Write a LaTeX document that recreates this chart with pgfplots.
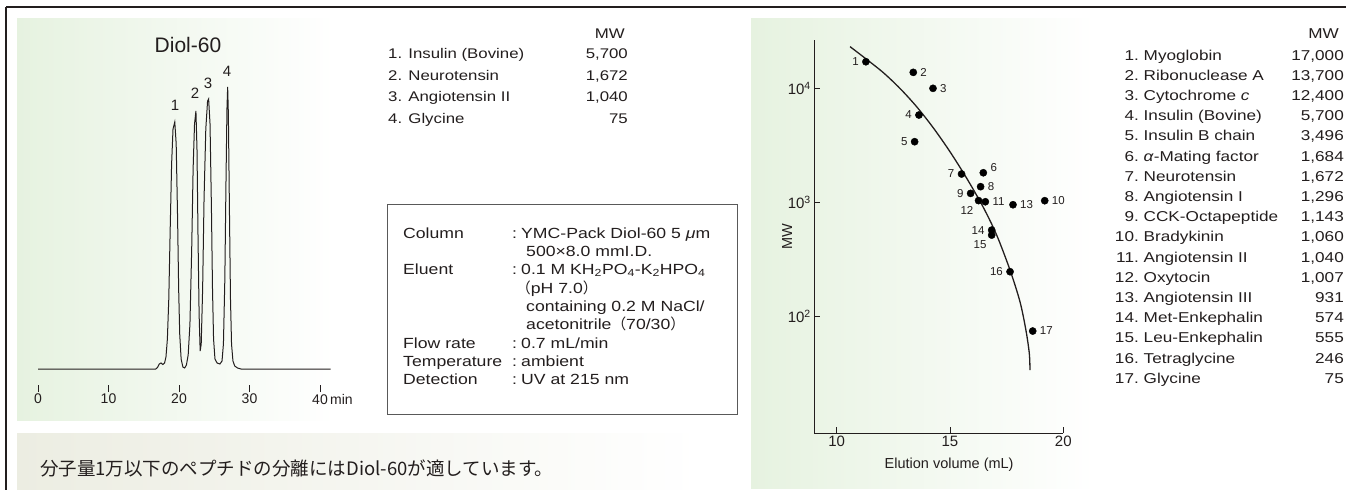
\documentclass[border=0pt]{standalone}
\usepackage{pgfplots}
\pgfplotsset{compat=1.18}
\usepackage{fontspec}
\setmainfont[FakeStretch=1.2]{Liberation Sans}
\newfontfamily\plain{Liberation Sans}
\newfontfamily\jp{Noto Sans CJK JP}
\definecolor{bggreen}{RGB}{230,242,224}
\definecolor{bgbeige}{RGB}{236,237,226}
\definecolor{ink}{RGB}{35,30,30}
\newcommand\fs[1]{\fontsize{#1bp}{#1bp}\selectfont}

\begin{document}
\begin{tikzpicture}[every node/.style={inner sep=0pt, text=ink}]
\path[use as bounding box] (0,0) rectangle (1346bp,-490bp);
\clip (0,0) rectangle (1346bp,-490bp);
\fill[white] (0,0) rectangle (1346bp,-490bp);
% panel backgrounds
\shade[left color=bggreen,right color=white] (17bp,-18bp) rectangle (335bp,-420bp);
\shade[left color=bgbeige,right color=white] (17bp,-433bp) rectangle (700bp,-490bp);
\shade[left color=bggreen,right color=white] (751bp,-18bp) rectangle (1095bp,-488bp);
\draw[ink,line width=1.3bp] (6bp,-7bp) -- (1346bp,-7bp) (6bp,-7bp) -- (6bp,-490bp);

% chromatogram
\begin{axis}[at={(38bp,-392bp)}, anchor=south west, scale only axis,
  width=292.6bp, height=323bp, xmin=0, xmax=41.5, ymin=-23, ymax=300,
  axis y line=none, axis x line=bottom, x axis line style={draw=none},
  tick align=inside, major tick length=7bp,
  xtick={0,10,20,30,40}, xticklabels={0,10,20,30,{40\rlap{\,min}}},
  xtick style={ink, line width=0.8bp},
  xticklabel style={font=\plain\fs{14}, text=ink, yshift=-2bp},
  clip=false]
\addplot[ink, line width=1bp] coordinates {
(0,0) (16.7,0) (16.95,1.5) (17.2,5) (17.45,6) (17.7,4.5) (17.95,6)
(18.15,12) (18.35,30) (18.55,70) (18.75,140) (18.95,205) (19.15,240)
(19.4,247) (19.6,225) (19.8,150) (19.95,80) (20.1,35) (20.3,10)
(20.55,2) (20.8,1) (21.05,4) (21.3,14) (21.55,45) (21.8,120) (22.0,200)
(22.2,245) (22.4,258) (22.55,220) (22.7,130) (22.85,55) (23.0,18)
(23.15,25) (23.35,80) (23.55,170) (23.8,240) (24.05,268) (24.2,270)
(24.4,245) (24.6,160) (24.75,80) (24.9,30) (25.1,10) (25.4,6) (25.8,5)
(26.1,8) (26.3,25) (26.5,90) (26.65,180) (26.8,260) (26.9,282) (27.0,255)
(27.15,160) (27.3,70) (27.45,25) (27.65,8) (27.9,3) (28.3,1) (28.8,0)
(41.5,0)};
\end{axis}
\node[font=\plain\fs{21}] at (188bp,-45bp) {Diol-60};
\node[font=\plain\fs{15}] at (175bp,-105bp) {1};
\node[font=\plain\fs{15}] at (195bp,-93bp) {2};
\node[font=\plain\fs{15}] at (208bp,-83bp) {3};
\node[font=\plain\fs{15}] at (227bp,-71bp) {4};

% left compound list
\begin{scope}[every node/.append style={font=\fs{14}}]
\node[anchor=base east] at (625bp,-38bp) {MW};
\foreach \y/\name/\v in {58/1. Insulin (Bovine)/{5,700}, 80/2. Neurotensin/{1,672},
   101/3. Angiotensin II/{1,040}, 123/4. Glycine/75}{
  \node[anchor=base west] at (388bp,{-\y*1bp}) {\name};
  \node[anchor=base east] at (628bp,{-\y*1bp}) {\v};
}
\end{scope}
% conditions box
\begin{scope}[every node/.append style={font=\fs{14.7}}]
\draw[black!65, line width=0.9bp] (387bp,-204bp) rectangle (737bp,-414bp);
\foreach \y/\lab/\v in {238/Column/YMC-Pack Diol-60 5 \textit{μ}m,
   274/Eluent/0.1 M KH\textsubscript{2}PO\textsubscript{4}-K\textsubscript{2}HPO\textsubscript{4},
   348/Flow rate/{0.7 mL/min}, 366/Temperature/ambient, 384/Detection/UV at 215 nm}{
  \node[anchor=base west] at (403bp,{-\y*1bp}) {\lab};
  \node[anchor=base west] at (512bp,{-\y*1bp}) {:};
  \node[anchor=base west] at (521bp,{-\y*1bp}) {\v};
}
\node[anchor=base west] at (526bp,-256bp) {500×8.0 mmI.D.};
\node[anchor=base west] at (516bp,-293bp) {{\jp （}pH 7.0{\jp ）}};
\node[anchor=base west] at (526bp,-311bp) {containing 0.2 M NaCl/};
\node[anchor=base west] at (526bp,-329bp) {acetonitrile{\jp （}70/30{\jp ）}};
\end{scope}

% right compound list
\begin{scope}[every node/.append style={font=\fs{14.3}}]
\node[anchor=base east] at (1339bp,-38bp) {MW};
\foreach \n/\name/\v [count=\i] in {1/Myoglobin/{17,000}, 2/Ribonuclease A/{13,700},
   3/Cytochrome \textit{c}/{12,400}, 4/Insulin (Bovine)/{5,700}, 5/Insulin B chain/{3,496},
   6/\textit{α}-Mating factor/{1,684}, 7/Neurotensin/{1,672}, 8/Angiotensin I/{1,296},
   9/CCK-Octapeptide/{1,143}, 10/Bradykinin/{1,060}, 11/Angiotensin II/{1,040},
   12/Oxytocin/{1,007}, 13/Angiotensin III/931, 14/Met-Enkephalin/574,
   15/Leu-Enkephalin/555, 16/Tetraglycine/246, 17/Glycine/75}{
  \pgfmathsetmacro\yy{60+20.2*(\i-1)}
  \node[anchor=base east] at (1139bp,{-\yy*1bp}) {\n.};
  \node[anchor=base west] at (1143.5bp,{-\yy*1bp}) {\name};
  \node[anchor=base east] at (1344bp,{-\yy*1bp}) {\v};
}
\end{scope}

% calibration plot
\begin{axis}[at={(814bp,-433bp)}, anchor=south west, scale only axis,
  width=249.3bp, height=393bp, xmin=9, xmax=20,
  ymode=log, ymin=9.6, ymax=26500,
  axis x line=bottom, axis y line=left,
  axis line style={ink, line width=1bp, -},
  tick align=inside, major tick length=6bp,
  tick style={ink, line width=0.8bp},
  xtick={10,15,20}, xticklabels={10,15,20},
  ytick={100,1000,10000},
  yticklabels={10\textsuperscript{2},10\textsuperscript{3},10\textsuperscript{4}},
  yminorticks=false,
  ticklabel style={font=\plain\fs{15}, text=ink},
  xticklabel style={yshift=-3bp}, yticklabel style={xshift=-3bp},
  xlabel={Elution volume (mL)}, ylabel={MW},
  label style={font=\plain\fs{14.5}, text=ink},
  xlabel style={at={(axis description cs:0.542,-0.081)}, anchor=center},
  ylabel style={at={(axis description cs:-0.108,0.5)}, anchor=center},
  clip=false,
  only marks, mark=*, mark size=3.6bp,
  every mark/.append style={fill=ink, draw=ink},
  nodes near coords, point meta=explicit symbolic,
  nodes near coords style={font=\plain\fs{11.5}, text=ink, inner sep=0pt}]
\addplot[ink, line width=1.3bp, smooth, no marks, nodes near coords=] coordinates {
(10.59,23174) (11.32,17947) (12.06,13709) (12.79,10000) (13.53,6902)
(14.26,4519) (15.0,2786) (15.74,1629) (16.47,908) (17.06,519)
(17.65,256) (18.09,135) (18.35,76.4) (18.50,47.8) (18.53,34.1)};
\addplot[nodes near coords style={anchor=east, xshift=-7bp}] coordinates {
(11.29,17100) [1] (13.63,5840) [4] (13.44,3410) [5] (15.51,1778) [7]
(15.91,1203) [9] (16.84,574) [14] (17.65,248) [16]};
\addplot[nodes near coords style={anchor=west, xshift=7bp}] coordinates {
(13.38,13800) [2] (14.25,10000) [3] (16.35,1377) [8] (19.18,1038) [10]
(16.56,1016) [11] (17.78,957) [13] (18.65,75) [17]};
\addplot[nodes near coords style={anchor=west, xshift=7bp, yshift=5bp}] coordinates {
(16.47,1823) [6]};
\addplot[nodes near coords style={anchor=east, xshift=-5bp, yshift=-10bp}] coordinates {
(16.26,1040) [12] (16.84,519) [15]};
\end{axis}

\node[anchor=west, font=\jp\fs{18.5}] at (40bp,-468bp) {分子量1万以下のペプチドの分離にはDiol-60が適しています。};
\end{tikzpicture}
\end{document}
